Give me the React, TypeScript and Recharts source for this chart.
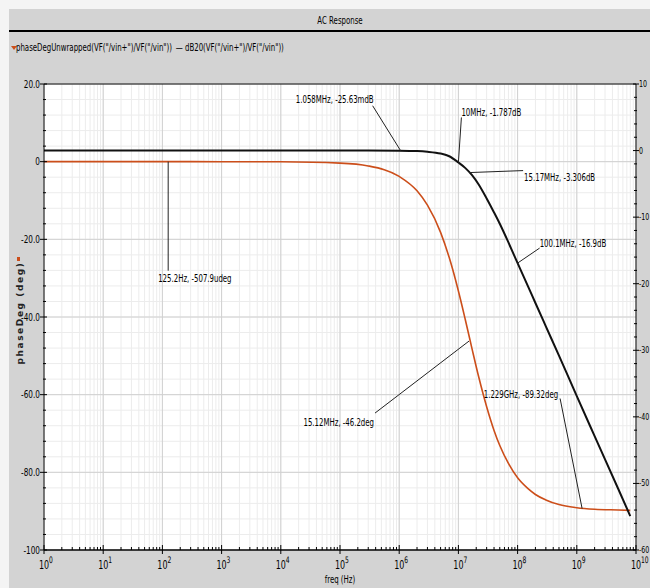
import React from "react";
import {
  ComposedChart,
  Line,
  XAxis,
  YAxis,
  CartesianGrid,
  ReferenceLine,
  ReferenceDot,
} from "recharts";

// values
const freq = [
  1, 10, 100, 1e3, 1e4, 1e5, 3e5, 1e6, 2e6, 3e6, 5e6, 7e6, 1e7, 1.3e7, 1.7e7,
  2.2e7, 3e7, 4e7, 5e7, 7e7, 1e8, 1.5e8, 2e8, 3e8, 5e8, 1e9, 2e9, 5e9, 8e9,
];
const phaseDeg = [
  0, 0, 0, -0.004, -0.04, -0.38, -1.1, -3.8, -7.5, -11.2, -18.2, -24.7, -33.3,
  -40.5, -48.2, -55.4, -63.1, -69.2, -73.1, -77.7, -81.4, -84.2, -85.7, -87.1,
  -88.3, -89.1, -89.5, -89.7, -89.8,
];
const dB = [
  0, 0, 0, 0, 0, 0, -0.002, -0.026, -0.08, -0.18, -0.45, -0.85, -1.79, -2.6,
  -3.7, -5.1, -7.2, -9.3, -11.0, -13.8, -16.9, -20.4, -22.9, -26.4, -30.8,
  -36.9, -42.9, -50.8, -54.9,
];

const xDecades = [1, 10, 100, 1e3, 1e4, 1e5, 1e6, 1e7, 1e8, 1e9, 1e10];
const xExponents = ["0", "1", "2", "3", "4", "5", "6", "7", "8", "9", "10"];
const degTicks = [20, 0, -20, -40, -60, -80, -100];
const degTickLabels = ["20.0", "0", "-20.0", "-40.0", "-60.0", "-80.0", "-100"];
const dbTicks = [10, 0, -10, -20, -30, -40, -50, -60];
const dbTickLabels = ["10", "0", "-10", "-20", "-30", "-40", "-50", "-60"];

const phaseMarkers = [
  { f: 125.2, v: -507.9e-6, text: "125.2Hz, -507.9udeg" },
  { f: 15.12e6, v: -46.2, text: "15.12MHz, -46.2deg" },
  { f: 1.229e9, v: -89.32, text: "1.229GHz, -89.32deg" },
];
const dbMarkers = [
  { f: 1.058e6, v: -0.02563, text: "1.058MHz, -25.63mdB" },
  { f: 10e6, v: -1.787, text: "10MHz, -1.787dB" },
  { f: 15.17e6, v: -3.306, text: "15.17MHz, -3.306dB" },
  { f: 100.1e6, v: -16.9, text: "100.1MHz, -16.9dB" },
];

// where each marker's leader line and label sit, relative to the marked point
const markerLayout: Record<string, { lx: number; ly: number; tx: number; ty: number; anchor: string }> = {
  "125.2Hz, -507.9udeg": { lx: 0, ly: 109, tx: -10, ty: 120, anchor: "start" },
  "15.12MHz, -46.2deg": { lx: -94, ly: 72, tx: -95, ty: 85, anchor: "end" },
  "1.229GHz, -89.32deg": { lx: -22, ly: -110, tx: -24, ty: -111, anchor: "end" },
  "1.058MHz, -25.63mdB": { lx: -28, ly: -45, tx: -27, ty: -48, anchor: "end" },
  "10MHz, -1.787dB": { lx: 3, ly: -45, tx: 3, ty: -46, anchor: "start" },
  "15.17MHz, -3.306dB": { lx: 54, ly: -2, tx: 55, ty: 8, anchor: "start" },
  "100.1MHz, -16.9dB": { lx: 22, ly: -15, tx: 22, ty: -16, anchor: "start" },
};

const data = freq.map((f, i) => ({ f, phase: phaseDeg[i], db: dB[i] }));

const minorX = xDecades
  .slice(0, -1)
  .flatMap((d) => [2, 3, 4, 5, 6, 7, 8, 9].map((m) => m * d));
const allXTicks = [...xDecades, ...minorX].sort((a, b) => a - b);
const degAllTicks = Array.from({ length: 31 }, (_, i) => -100 + 4 * i);
const dbAllTicks = Array.from({ length: 36 }, (_, i) => -60 + 2 * i);

const FONT = '"DejaVu Sans Condensed", "DejaVu Sans", sans-serif';
const SQUEEZE = 0.74;
const ORANGE = "#cc4e1a";
const GRAY = "#d3d3d3";

// narrow text, like the simulator's condensed UI font
const NText = ({ x, y, anchor = "start", size = 10, children }: any) => (
  <text
    transform={`translate(${x},${y}) scale(${SQUEEZE},1)`}
    textAnchor={anchor}
    fontSize={size}
    fontFamily={FONT}
    fill="#000"
  >
    {children}
  </text>
);

const XTick = (props: any) => {
  const { x, y, payload } = props;
  const v = payload.value;
  const idx = xDecades.findIndex((d) => Math.abs(Math.log10(d) - Math.log10(v)) < 1e-6);
  if (idx < 0) return <line x1={x} x2={x} y1={y} y2={y - 3} stroke="#000" />;
  return (
    <g>
      <line x1={x} x2={x} y1={y - 5} y2={y + 4} stroke="#000" />
      <NText x={x} y={y + 19} anchor="middle" size={12}>
        10
      </NText>
      <NText x={x + 5} y={y + 13} size={9}>
        {xExponents[idx]}
      </NText>
    </g>
  );
};

const DegTick = (props: any) => {
  const { x, y, payload } = props;
  const i = degTicks.indexOf(payload.value);
  if (i < 0) return <line x1={x - 1} x2={x + 2} y1={y} y2={y} stroke="#000" />;
  return (
    <g>
      <line x1={x - 4} x2={x + 3} y1={y} y2={y} stroke="#000" />
      <NText x={x - 4} y={y + 3.5} anchor="end" size={11}>
        {degTickLabels[i]}
      </NText>
    </g>
  );
};

const DbTick = (props: any) => {
  const { x, y, payload } = props;
  const i = dbTicks.indexOf(payload.value);
  if (i < 0) return <line x1={x - 2} x2={x + 1} y1={y} y2={y} stroke="#000" />;
  return (
    <g>
      <line x1={x - 3} x2={x + 3} y1={y} y2={y} stroke="#000" />
      <NText x={x + 3} y={y + 3} size={9.5}>
        {dbTickLabels[i]}
      </NText>
    </g>
  );
};

const markerShape = (text: string) => (p: any) => {
  const m = markerLayout[text];
  const { cx, cy } = p;
  return (
    <g>
      <line x1={cx} y1={cy} x2={cx + m.lx} y2={cy + m.ly} stroke="#222" strokeWidth={1} />
      <NText x={cx + m.tx} y={cy + m.ty} anchor={m.anchor} size={10.5}>
        {text}
      </NText>
    </g>
  );
};

const squeezeLeft: React.CSSProperties = {
  display: "inline-block",
  transform: `scaleX(${SQUEEZE})`,
  transformOrigin: "left center",
  whiteSpace: "nowrap",
};

export default function App() {
  return (
    <div
      style={{
        position: "absolute",
        left: 0,
        top: 0,
        width: 650,
        height: 588,
        background: "#f4f4f4",
        overflow: "hidden",
        fontFamily: FONT,
      }}
    >
      <div style={{ position: "absolute", left: 9, top: 9, right: 0, bottom: 0, background: GRAY }} />
      <div
        style={{
          position: "absolute",
          left: 340,
          top: 14,
          fontSize: 10.5,
          color: "#000",
          transform: `translateX(-50%) scaleX(${SQUEEZE})`,
          whiteSpace: "nowrap",
        }}
      >
        AC Response
      </div>
      <div style={{ position: "absolute", left: 9, right: 0, top: 30, height: 2, background: "#000" }} />
      <div style={{ position: "absolute", left: 11, top: 46, width: 0, height: 0, borderLeft: "3px solid transparent", borderRight: "3px solid transparent", borderTop: `4px solid ${ORANGE}` }} />
      <div style={{ position: "absolute", left: 16, top: 41, fontSize: 10.5, color: "#000" }}>
        <span style={squeezeLeft}>
          {'phaseDegUnwrapped(VF("/vin+")/VF("/vin"))'}
          <span style={{ marginLeft: 5 }}>—</span>
          {' dB20(VF("/vin+")/VF("/vin"))'}
        </span>
      </div>
      <div style={{ position: "absolute", left: 17, top: 257, width: 3, height: 4, background: ORANGE }} />
      <div
        style={{
          position: "absolute",
          left: 20,
          top: 313,
          transform: "translate(-50%, -50%) rotate(-90deg)",
          fontSize: 9,
          letterSpacing: 1.6,
          fontWeight: "bold",
          whiteSpace: "nowrap",
          color: "#222",
          fontFamily: '"DejaVu Sans", sans-serif',
        }}
      >
        phaseDeg (deg)
      </div>
      <div
        style={{
          position: "absolute",
          left: 340,
          top: 573,
          fontSize: 10.5,
          color: "#000",
          transform: `translateX(-50%) scaleX(${SQUEEZE})`,
          whiteSpace: "nowrap",
        }}
      >
        freq (Hz)
      </div>
      <div style={{ position: "absolute", left: 0, top: 0 }}>
        <ComposedChart
          width={650}
          height={588}
          data={data}
          margin={{ top: 84, right: 0, bottom: 0, left: 10 }}
        >
          <CartesianGrid yAxisId="deg" fill="#fff" stroke="#ececec" strokeWidth={1} />
          {xDecades.slice(1, -1).map((d) => (
            <ReferenceLine key={"vx" + d} x={d} yAxisId="deg" stroke="#d0d0d0" />
          ))}
          {degTicks.slice(1, -1).map((v) => (
            <ReferenceLine key={"hy" + v} y={v} yAxisId="deg" stroke="#d0d0d0" />
          ))}
          <ReferenceLine y={20} yAxisId="deg" stroke="#000" />
          <XAxis
            dataKey="f"
            type="number"
            scale="log"
            domain={[1, 1e10]}
            ticks={allXTicks}
            interval={0}
            allowDataOverflow
            height={38}
            tickSize={0}
            tickMargin={0}
            tickLine={false}
            axisLine={{ stroke: "#000", strokeWidth: 1.5 }}
            tick={<XTick />}
          />
          <YAxis
            yAxisId="deg"
            domain={[-100, 20]}
            ticks={degAllTicks}
            interval={0}
            allowDataOverflow
            width={34}
            tickSize={0}
            tickMargin={0}
            tickLine={false}
            axisLine={{ stroke: "#000" }}
            tick={<DegTick />}
          />
          <YAxis
            yAxisId="db"
            orientation="right"
            domain={[-60, 10]}
            ticks={dbAllTicks}
            interval={0}
            allowDataOverflow
            width={14}
            tickSize={0}
            tickMargin={0}
            tickLine={false}
            axisLine={{ stroke: "#000" }}
            tick={<DbTick />}
          />
          <Line
            yAxisId="deg"
            type="monotone"
            dataKey="phase"
            stroke={ORANGE}
            strokeWidth={1.6}
            dot={false}
            activeDot={false}
            isAnimationActive={false}
          />
          <Line
            yAxisId="db"
            type="monotone"
            dataKey="db"
            stroke="#111"
            strokeWidth={2}
            dot={false}
            activeDot={false}
            isAnimationActive={false}
          />
          {phaseMarkers.map((m) => (
            <ReferenceDot
              key={m.text}
              x={m.f}
              y={m.v}
              yAxisId="deg"
              r={0}
              shape={markerShape(m.text)}
            />
          ))}
          {dbMarkers.map((m) => (
            <ReferenceDot
              key={m.text}
              x={m.f}
              y={m.v}
              yAxisId="db"
              r={0}
              shape={markerShape(m.text)}
            />
          ))}
        </ComposedChart>
      </div>
    </div>
  );
}
